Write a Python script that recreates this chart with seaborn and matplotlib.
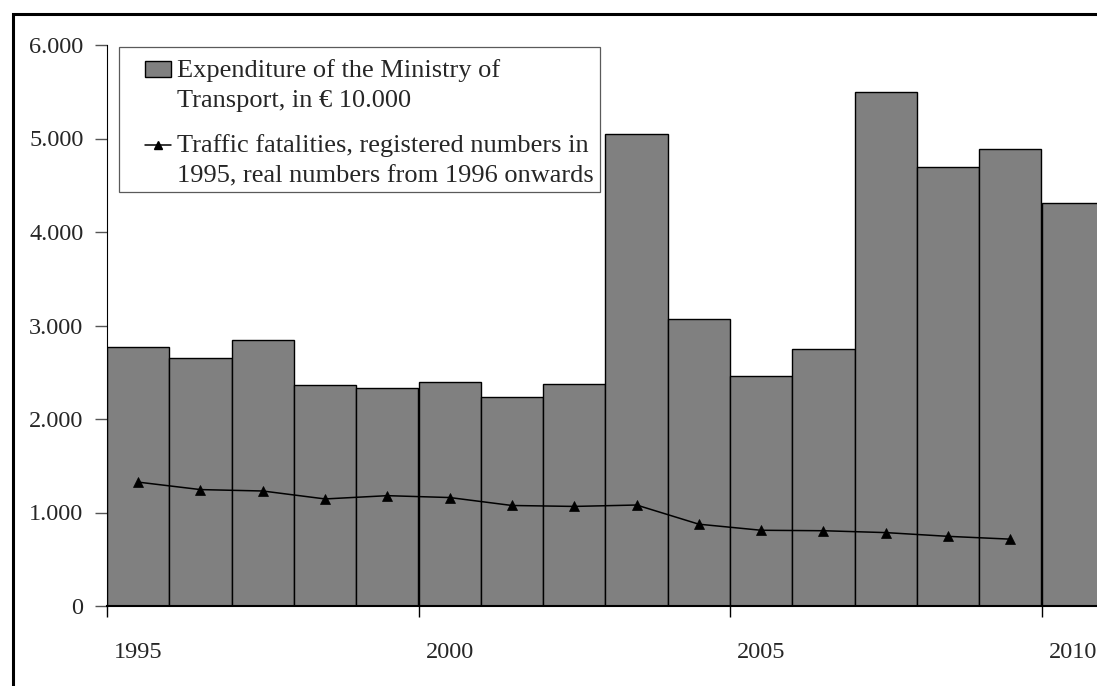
import numpy as np
import pandas as pd
import seaborn as sns
import matplotlib.pyplot as plt
from matplotlib.patches import Rectangle, Patch
from matplotlib.lines import Line2D
from matplotlib.legend_handler import HandlerPatch, HandlerLine2D
from matplotlib.ticker import FuncFormatter, FixedLocator, NullFormatter

# Ministry of Transport expenditure (in EUR 10.000), per year
years = [1995, 1996, 1997, 1998, 1999, 2000, 2001, 2002,
         2003, 2004, 2005, 2006, 2007, 2008, 2009, 2010]
expenditure = [2770, 2655, 2845, 2365, 2330, 2400, 2235, 2370,
               5050, 3070, 2460, 2745, 5500, 4690, 4890, 4315]

# Traffic fatalities (registered in 1995, real numbers afterwards)
fatality_years = [1995, 1996, 1997, 1998, 1999, 2000, 2001, 2002,
                  2003, 2004, 2005, 2006, 2007, 2008, 2009]
fatalities = [1325, 1245, 1230, 1145, 1180, 1160, 1075, 1065,
              1080, 875, 810, 805, 785, 745, 715]

year_labels = [1995, 2000, 2005, 2010]
year_ticks = [1994.5, 1999.5, 2004.5, 2009.5]
y_ticks = [0, 1000, 2000, 3000, 4000, 5000, 6000]

label_exp = "Expenditure of the Ministry of\nTransport, in € 10.000"
label_fat = "Traffic fatalities, registered numbers in\n1995, real numbers from 1996 onwards"

sns.set_style("white")
plt.rcParams["font.family"] = ["Liberation Serif", "DejaVu Serif"]

W, H = 1097, 686
fig = plt.figure(figsize=(W / 100, H / 100), dpi=100)
ax = fig.add_axes([107 / W, 1 - 606 / H, 996.8 / W, 561 / H])

bars = pd.DataFrame({"year": years, "value": expenditure})
line = pd.DataFrame({"year": fatality_years, "value": fatalities})

sns.barplot(data=bars, x="year", y="value", native_scale=True, width=1,
            color="#808080", saturation=1, edgecolor="black", linewidth=1.0,
            errorbar=None, ax=ax)
sns.lineplot(data=line, x="year", y="value", color="black", linewidth=1.1,
             marker="^", markersize=7, markeredgecolor="black",
             markerfacecolor="black", markeredgewidth=0.5, ax=ax)

ax.set_xlim(1994.5, 2010.5)
ax.set_ylim(0, 6000)
ax.set_xlabel("")
ax.set_ylabel("")

ax.xaxis.set_major_locator(FixedLocator(year_ticks))
ax.xaxis.set_major_formatter(NullFormatter())
ax.xaxis.set_minor_locator(FixedLocator(year_labels))
ax.xaxis.set_minor_formatter(FuncFormatter(lambda v, p: f"{v:.0f}"))
ax.tick_params(axis="x", which="major", bottom=True, length=8, width=1,
               color="black", direction="out")
ax.tick_params(axis="x", which="minor", bottom=True, length=0, pad=26,
               labelsize=17.5)

ax.yaxis.set_major_locator(FixedLocator(y_ticks))
ax.yaxis.set_major_formatter(
    FuncFormatter(lambda v, p: f"{int(v):,}".replace(",", ".")))
ax.tick_params(axis="y", left=True, length=9, width=1, color="#555555",
               direction="out", pad=8, labelsize=17.5)

for side in ("top", "right"):
    ax.spines[side].set_visible(False)
ax.spines["left"].set_color("black")
ax.spines["left"].set_linewidth(0.8)
ax.spines["bottom"].set_color("black")
ax.spines["bottom"].set_linewidth(1.5)
ax.grid(False)

LIFT = 0.58


class RaisedPatchHandler(HandlerPatch):
    def create_artists(self, legend, orig_handle, xdescent, ydescent,
                       width, height, fontsize, trans):
        lift = LIFT * fontsize
        return super().create_artists(legend, orig_handle, xdescent,
                                      ydescent - lift, width, height,
                                      fontsize, trans)


class RaisedLineHandler(HandlerLine2D):
    def create_artists(self, legend, orig_handle, xdescent, ydescent,
                       width, height, fontsize, trans):
        lift = LIFT * fontsize
        return super().create_artists(legend, orig_handle, xdescent,
                                      ydescent - 2 * lift, width, height,
                                      fontsize, trans)


h_bar = Patch(facecolor="#808080", edgecolor="black", linewidth=1.0)
h_line = Line2D([], [], color="black", linewidth=1.1, marker="^",
                markersize=6, markerfacecolor="black")

leg = fig.legend(handles=[h_bar, h_line], labels=[label_exp, label_fat],
                 loc="upper left", bbox_to_anchor=(145 / W, 1 - 59 / H),
                 frameon=False, borderpad=0, borderaxespad=0,
                 handlelength=1.0, handleheight=0.55, handletextpad=0.2,
                 labelspacing=0.85, prop={"size": 19},
                 handler_map={Patch: RaisedPatchHandler(),
                              Line2D: RaisedLineHandler()})
for t in leg.get_texts():
    t.set_linespacing(1.47)
leg.set_zorder(10)

# legend box
fig.add_artist(Rectangle((119 / W, 1 - 192 / H), 481 / W, 145 / H,
                         transform=fig.transFigure, fill=False,
                         edgecolor="#5a5a5a", linewidth=0.9, zorder=9))

# chart-area border
fig.add_artist(Rectangle((13 / W, -0.1), 1.2, (H - 14) / H + 0.1,
                         transform=fig.transFigure, fill=False,
                         edgecolor="black", linewidth=2.2, clip_on=False,
                         zorder=9))

fig.savefig("out.png", dpi=100)
